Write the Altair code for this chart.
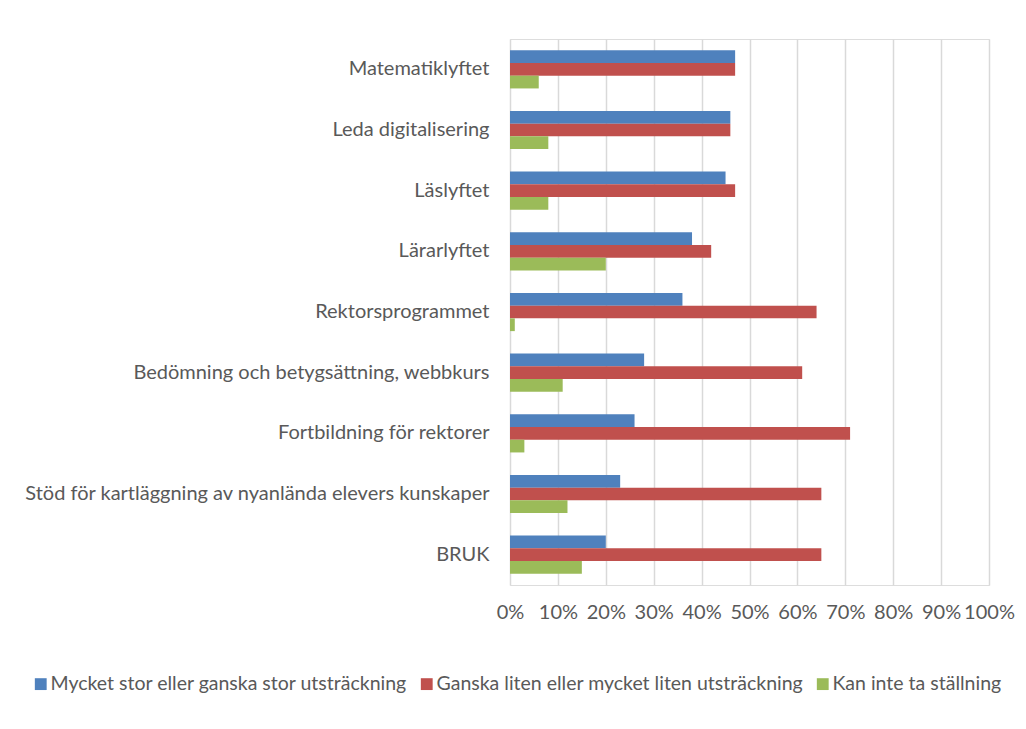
import altair as alt
import pandas as pd

categories = [
    "Matematiklyftet",
    "Leda digitalisering\u00a0",
    "Läslyftet\u00a0",
    "Lärarlyftet\u00a0",
    "Rektorsprogrammet",
    "Bedömning och betygsättning, webbkurs",
    "Fortbildning för rektorer\u00a0",
    "Stöd för kartläggning av nyanlända elevers kunskaper",
    "BRUK\u00a0",
]
series = [
    "Mycket stor eller ganska stor utsträckning",
    "Ganska liten eller mycket liten utsträckning",
    "Kan inte ta ställning",
]
blue_vals = [47, 46, 45, 38, 36, 28, 26, 23, 20]
red_vals = [47, 46, 47, 42, 64, 61, 71, 65, 65]
green_vals = [6, 8, 8, 20, 1, 11, 3, 12, 15]
colors = ["#4F81BD", "#C0504D", "#9BBB59"]
tick_values = [i / 10 for i in range(11)]

rows = []
for s, vals in zip(series, [blue_vals, red_vals, green_vals]):
    for c, v in zip(categories, vals):
        rows.append({"kategori": c, "serie": s, "andel": v / 100})
df = pd.DataFrame(rows)

FONT = "Lato"
GRAY = "#595959"
FS = 20

chart = (
    alt.Chart(df)
    .mark_bar()
    .encode(
        x=alt.X(
            "andel:Q",
            scale=alt.Scale(domain=[0, 1], nice=False),
            axis=alt.Axis(
                values=tick_values,
                format=".0%",
                title=None,
                domain=False,
                ticks=False,
                grid=True,
                gridColor="#D9D9D9",
                gridWidth=1.5,
                labelFont=FONT,
                labelFontSize=FS,
                labelColor=GRAY,
                labelPadding=17,
                labelOverlap=False,
                labelFlush=False,
            ),
        ),
        y=alt.Y(
            "kategori:N",
            sort=categories,
            scale=alt.Scale(paddingInner=0.37, paddingOuter=0.185),
            axis=alt.Axis(
                title=None,
                domain=False,
                ticks=False,
                labelFont=FONT,
                labelFontSize=FS,
                labelColor=GRAY,
                labelPadding=21,
                labelLimit=600,
            ),
        ),
        yOffset=alt.YOffset("serie:N", sort=series, scale=alt.Scale(paddingInner=0, paddingOuter=0)),
        color=alt.Color(
            "serie:N",
            sort=series,
            scale=alt.Scale(domain=series, range=colors),
            legend=alt.Legend(
                title=None,
                orient="none",
                direction="horizontal",
                legendX=-479,
                legendY=635,
                symbolType="square",
                symbolSize=140,
                symbolStrokeWidth=0,
                labelFont=FONT,
                labelFontSize=19.5,
                labelColor=GRAY,
                labelOffset=0,
                columnPadding=9,
                labelLimit=600,
            ),
        ),
    )
    .properties(
        width=479,
        height=546,
        autosize=alt.AutoSizeParams(type="none"),
        padding={"left": 502, "top": 31, "right": 28, "bottom": 120},
    )
    .configure_view(stroke=None)
    .configure(background="white")
)

chart.save("out.html", embed_options={"renderer": "svg", "actions": False})
